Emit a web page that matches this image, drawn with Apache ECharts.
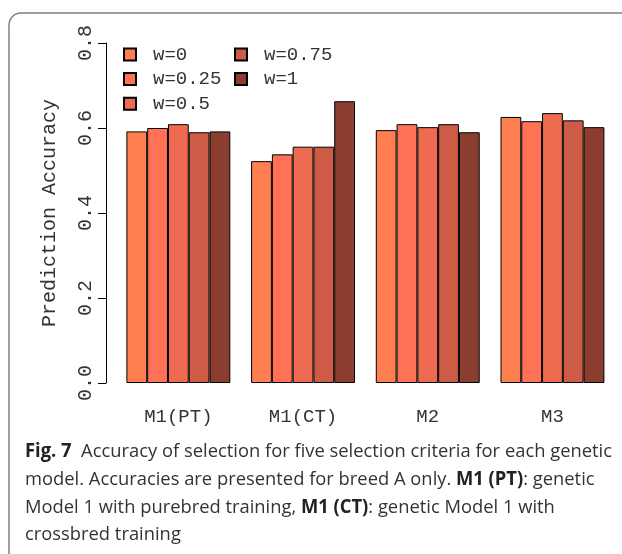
<!DOCTYPE html>
<html>
<head>
<meta charset="utf-8">
<script src="https://cdn.jsdelivr.net/npm/echarts@6/dist/echarts.min.js"></script>
<style>
html,body{margin:0;padding:0;background:#fff;}
#chart{width:622px;height:554px;}
</style>
</head>
<body>
<div id="chart"></div>
<script>
// ---- data ----
const categories = ['M1(PT)', 'M1(CT)', 'M2', 'M3'];
const seriesNames = ['w=0', 'w=0.25', 'w=0.5', 'w=0.75', 'w=1'];
const w0    = [0.592, 0.522, 0.595, 0.626];
const w025  = [0.600, 0.538, 0.609, 0.616];
const w05   = [0.609, 0.556, 0.602, 0.635];
const w075  = [0.590, 0.556, 0.609, 0.618];
const w1    = [0.592, 0.663, 0.590, 0.602];
const yTicks = [0, 0.2, 0.4, 0.6, 0.8];
const colors = ['#FF7F50', '#FF7256', '#EE6A50', '#CD5B45', '#8B3E2F'];

const seriesValues = [w0, w025, w05, w075, w1];
const mono = "'Courier New', 'Liberation Mono', monospace";
const sans = "'Open Sans', 'Noto Sans', sans-serif";

// caption lines (segments: [text, bold])
const captionLines = [
  [['Fig. 7', true], ['  Accuracy of selection for five selection criteria for each genetic', false]],
  [['model. Accuracies are presented for breed A only. ', false], ['M1 (PT)', true], [': genetic', false]],
  [['Model 1 with purebred training, ', false], ['M1 (CT)', true], [': genetic Model 1 with', false]],
  [['crossbred training', false]]
];
const capFontSize = 19;
const cv = document.createElement('canvas').getContext('2d');
function measure(line){
  let w = 0;
  line.forEach(([t,b])=>{ cv.font = (b?'bold ':'') + capFontSize + "px " + sans; w += cv.measureText(t).width; });
  return w;
}
const capScale = 587 / measure(captionLines[0]);
const capY = [452, 480, 508, 535];
const captionGraphics = captionLines.map((line, i) => ({
  type: 'text',
  x: 25, y: capY[i],
  scaleX: capScale,
  style: {
    text: line.map(([t,b]) => b ? '{b|' + t + '}' : '{n|' + t + '}').join(''),
    rich: {
      b: {fontWeight: 'bold', fontSize: capFontSize, fontFamily: sans, fill: '#222'},
      n: {fontWeight: 'normal', fontSize: capFontSize, fontFamily: sans, fill: '#333'}
    },
    verticalAlign: 'middle',
    align: 'left'
  }
}));

const legendCommon = {
  orient: 'vertical', top: 45, padding: 0,
  itemWidth: 12, itemHeight: 12, itemGap: 5.6, icon: 'rect',
  textStyle: {fontFamily: mono, fontSize: 19, color: '#333', lineHeight: 14, padding: [0,0,0,12]}
};

const chart = echarts.init(document.getElementById('chart'), null, {renderer: 'canvas'});
chart.setOption({
  backgroundColor: '#fff',
  animation: false,
  grid: {left: 116, right: 7.2, top: 43, bottom: 171, containLabel: false},
  legend: [
    Object.assign({data: seriesNames.slice(0,3), left: 123}, legendCommon),
    Object.assign({data: seriesNames.slice(3), left: 234}, legendCommon)
  ],
  xAxis: {
    type: 'category', data: categories,
    axisLine: {show: false}, axisTick: {show: false},
    axisLabel: {fontFamily: mono, fontSize: 19, color: '#333', margin: 24}
  },
  yAxis: {
    type: 'value', min: 0, max: 0.8, interval: 0.2, offset: 10,
    splitLine: {show: false},
    axisLine: {show: true, lineStyle: {color: '#000', width: 1}},
    axisTick: {show: true, length: 8, lineStyle: {color: '#000'}},
    axisLabel: {rotate: 90, fontFamily: mono, fontSize: 20, color: '#333', margin: 10,
      formatter: v => yTicks.indexOf(Math.round(v*10)/10) >= 0 ? v.toFixed(1) : ''},
    name: 'Prediction Accuracy', nameLocation: 'middle', nameRotate: 90, nameGap: 46,
    nameTextStyle: {fontFamily: mono, fontSize: 20, color: '#333'}
  },
  series: seriesValues.map((vals, i) => ({
    name: seriesNames[i], type: 'bar', data: vals,
    barGap: '0%', barCategoryGap: '16.667%',
    itemStyle: {color: colors[i], borderColor: '#000', borderWidth: 1}
  })),
  graphic: [
    {type: 'rect', shape: {x: 9, y: 13, width: 700, height: 700, r: 12}, silent: true,
     style: {fill: 'none', stroke: '#808080', lineWidth: 1.5}},
    ...captionGraphics
  ]
});
</script>
</body>
</html>
